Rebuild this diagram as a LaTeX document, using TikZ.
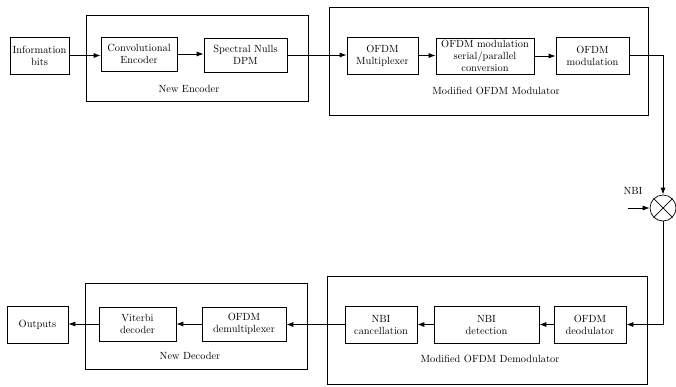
\documentclass[tikz,border=0pt]{standalone}
\usetikzlibrary{arrows.meta}

\tikzset{
    block/.style={draw, line width=0.7pt, align=center, inner sep=0pt},
    frame/.style={draw, line width=0.7pt},
    flow/.style={line width=0.8pt, -{Latex[length=7pt,width=5pt]}},
}

\begin{document}
\begin{tikzpicture}[x=1pt, y=-1pt, font=\fontsize{10.4}{12}\selectfont]

\useasboundingbox (0,0) rectangle (676,386);

% Frames
\draw[frame] (86,15) rectangle (308,101);
\node (EncLabel) at (189,89) {New Encoder};
\draw[frame] (329,7) rectangle (648,115);
\node (ModLabel) at (496,91) {Modified OFDM Modulator};
\draw[frame] (327,276) rectangle (647,384);
\node (DemLabel) at (490,359) {Modified OFDM Demodulator};
\draw[frame] (85,283) rectangle (307,369);
\node (DecLabel) at (190,356) {New Decoder};

% Transmitter blocks
\node[block, minimum width=59, minimum height=37] (Info) at (39.5,55.5) {Information\\bits};
\node[block, minimum width=76, minimum height=34] (Conv) at (139,54) {Convolutional\\Encoder};
\node[block, minimum width=83, minimum height=34] (Spectral) at (245.5,55) {Spectral Nulls\\DPM};
\node[block, minimum width=71, minimum height=37] (Mux) at (382.5,55.5) {OFDM\\Multiplexer};
\node[block, minimum width=98, minimum height=36] (SerPar) at (485,56) {OFDM modulation\\serial/parallel\\conversion};
\node[block, minimum width=73, minimum height=37] (Mod) at (592.5,55.5) {OFDM\\modulation};

% Receiver blocks
\node[block, minimum width=72, minimum height=37] (Deod) at (590,324.5) {OFDM\\deodulator};
\node[block, minimum width=105, minimum height=37] (Detect) at (486.5,324.5) {NBI\\detection};
\node[block, minimum width=72, minimum height=37] (Cancel) at (381,324.5) {NBI\\cancellation};
\node[block, minimum width=84, minimum height=34] (Demux) at (244,324) {OFDM\\demultiplexer};
\node[block, minimum width=77, minimum height=34] (Viterbi) at (137.5,324) {Viterbi\\decoder};
\node[block, minimum width=61, minimum height=37] (Outputs) at (37.5,324.5) {Outputs};

% Mixer
\node[draw, line width=0.7pt, circle, minimum size=26, inner sep=0pt] (Mixer) at (663,208) {};
\draw[line width=0.7pt] (Mixer.45) -- (Mixer.225) (Mixer.135) -- (Mixer.315);
\node (NBI) at (633,191) {NBI};
\coordinate (NbiIn) at (628,208);
\coordinate (TxCorner) at (663,55.5);
\coordinate (RxCorner) at (663,324.5);

% Draws chain arrows, left to right
\foreach \a/\b in {Info/Conv, Conv/Spectral, Spectral/Mux, Mux/SerPar, SerPar/Mod} {
    \draw[flow] (\a.east) -- (\a.east -| \b.west);
}
% Draws chain arrows, right to left
\foreach \a/\b in {Deod/Detect, Detect/Cancel, Cancel/Demux, Demux/Viterbi, Viterbi/Outputs} {
    \draw[flow] (\a.west) -- (\a.west -| \b.east);
}

% Draws channel path
\draw[flow] (Mod.east) -- (TxCorner) -- (Mixer.north);
\draw[flow] (NbiIn) -- (Mixer.west);
\draw[flow] (Mixer.south) -- (RxCorner) -- (Deod.east);

\end{tikzpicture}
\end{document}
